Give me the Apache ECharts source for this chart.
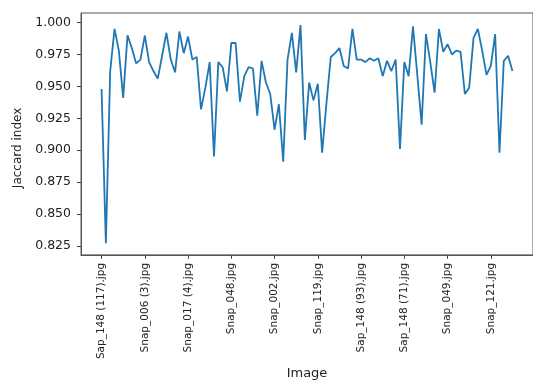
<!DOCTYPE html>
<html>
<head>
<meta charset="utf-8">
<script src="https://cdn.jsdelivr.net/npm/echarts@6/dist/echarts.min.js"></script>
<style>html,body{margin:0;padding:0;background:#fff}#c{width:533px;height:385px}</style>
</head>
<body>
<div id="c"></div>
<script>
// Jaccard index per image (index = image order)
const jaccard = [
  0.948, 0.827, 0.962, 0.995, 0.978, 0.941, 0.990, 0.980, 0.968, 0.971,
  0.990, 0.969, 0.962, 0.956, 0.974, 0.992, 0.971, 0.961, 0.993, 0.976,
  0.989, 0.971, 0.973, 0.932, 0.949, 0.969, 0.895, 0.969, 0.965, 0.946,
  0.984, 0.984, 0.938, 0.958, 0.965, 0.964, 0.927, 0.970, 0.953, 0.944,
  0.916, 0.936, 0.891, 0.971, 0.992, 0.961, 0.998, 0.908, 0.953, 0.939,
  0.952, 0.898, 0.937, 0.973, 0.976, 0.980, 0.966, 0.964, 0.995, 0.971,
  0.971, 0.969, 0.972, 0.970, 0.972, 0.958, 0.970, 0.962, 0.971, 0.901,
  0.969, 0.958, 0.997, 0.959, 0.920, 0.991, 0.969, 0.945, 0.995, 0.977,
  0.983, 0.975, 0.978, 0.977, 0.944, 0.949, 0.988, 0.995, 0.978, 0.959,
  0.966, 0.991, 0.898, 0.970, 0.974, 0.962
];
// x tick labels shown every 10 images
const tickIndices = [0, 10, 20, 30, 40, 50, 60, 70, 80, 90];
const tickLabels = [
  'Sap_148 (117).jpg', 'Snap_006 (3).jpg', 'Snap_017 (4).jpg', 'Snap_048.jpg',
  'Snap_002.jpg', 'Snap_119.jpg', 'Sap_148 (93).jpg', 'Sap_148 (71).jpg',
  'Snap_049.jpg', 'Snap_121.jpg'
];
const yTicks = [0.825, 0.850, 0.875, 0.900, 0.925, 0.950, 0.975, 1.000];

const n = jaccard.length;
const xPad = 0.05 * (n - 1);
const chart = echarts.init(document.getElementById('c'), null, {renderer: 'canvas'});
chart.setOption({
  animation: false,
  grid: {left: 81, top: 13, width: 455, height: 260, show: true, borderColor: '#555', borderWidth: 1, backgroundColor: 'transparent'},
  xAxis: {
    type: 'value',
    min: -xPad, max: n - 1 + xPad,
    name: 'Image', nameLocation: 'middle', nameGap: 103,
    nameTextStyle: {fontFamily: 'DejaVu Sans', fontSize: 13, color: '#222'},
    axisLine: {show: true, onZero: false, lineStyle: {color: '#555'}},
    axisTick: {show: true, length: 4, lineStyle: {color: '#444'}, customValues: tickIndices},
    axisLabel: {
      rotate: 90, margin: 8, fontFamily: 'DejaVu Sans', fontSize: 10.5, color: '#222',
      customValues: tickIndices,
      formatter: v => { const k = tickIndices.indexOf(Math.round(v)); return k >= 0 ? tickLabels[k] : ''; }
    },
    splitLine: {show: false}
  },
  yAxis: {
    type: 'value',
    min: 0.8179, max: 1.0075,
    name: 'Jaccard index', nameLocation: 'middle', nameGap: 57,
    nameTextStyle: {fontFamily: 'DejaVu Sans', fontSize: 12, color: '#222', padding: [0, 28, 0, 0]},
    axisLine: {show: true, onZero: false, lineStyle: {color: '#555'}},
    axisTick: {show: true, length: 4, lineStyle: {color: '#444'}, customValues: yTicks},
    axisLabel: {
      margin: 10, fontFamily: 'DejaVu Sans', fontSize: 12.5, color: '#222',
      customValues: yTicks,
      formatter: v => v.toFixed(3)
    },
    splitLine: {show: false}
  },
  series: [{
    type: 'line',
    data: jaccard.map((v, i) => [i, v]),
    showSymbol: false,
    lineStyle: {color: '#1f77b4', width: 1.8},
    itemStyle: {color: '#1f77b4'}
  }]
});
</script>
</body>
</html>
